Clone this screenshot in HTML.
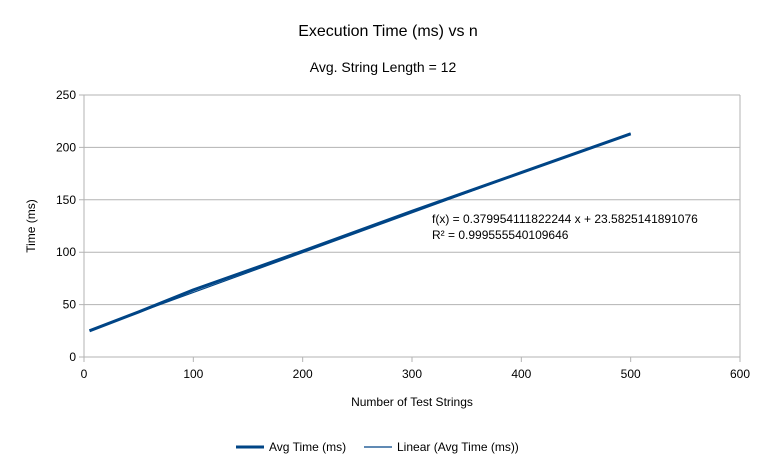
<!DOCTYPE html>
<html><head><meta charset="utf-8"><style>
body{margin:0;background:#fff;font-family:"Liberation Sans",sans-serif}
</style></head><body>
<svg width="766" height="458" viewBox="0 0 766 458" id="c" font-family="Liberation Sans, sans-serif">
<rect width="766" height="458" fill="#fff"/>
<text x="388" y="36" font-size="16" text-anchor="middle">Execution Time (ms) vs n</text>
<text x="383" y="72" font-size="14" text-anchor="middle">Avg. String Length = 12</text>
<g id="grid"></g>
<g id="series"></g>
<text x="432" y="223" font-size="12">f(x) = 0.379954111822244 x + 23.5825141891076</text>
<text x="432" y="239" font-size="12">R² = 0.999555540109646</text>
<text x="412" y="406" font-size="12" text-anchor="middle">Number of Test Strings</text>
<text x="35" y="226" font-size="12" text-anchor="middle" transform="rotate(-90 35 226)">Time (ms)</text>
<g>
<line x1="236" y1="447" x2="264" y2="447" stroke="#004586" stroke-width="3"/>
<text x="269" y="451" font-size="12">Avg Time (ms)</text>
<line x1="364" y1="447" x2="392" y2="447" stroke="#004586" stroke-width="1.2"/>
<text x="397" y="451" font-size="12">Linear (Avg Time (ms))</text>
</g>
</svg>
<script>
const xs=[5,50,100,200,300,400,500];
const ys=[25,43,64,101,139,176,213];
const slope=0.379954111822244, intercept=23.5825141891076;
const xTicks=[0,100,200,300,400,500,600];
const yTicks=[0,50,100,150,200,250];
const X0=84,X1=740,Y0=357,Y1=95;
const sx=v=>X0+(v/600)*(X1-X0), sy=v=>Y0-(v/250)*(Y0-Y1);
const NS="http://www.w3.org/2000/svg";
const g=document.getElementById('grid'), s=document.getElementById('series');
function mk(t,a,p){const e=document.createElementNS(NS,t);for(const k in a)e.setAttribute(k,a[k]);p.appendChild(e);return e;}
yTicks.forEach(v=>{
 const l=mk('line',{x1:X0-5,x2:X1,y1:sy(v),y2:sy(v),stroke:'#b3b3b3','stroke-width':1},g);
 
 
 const t=mk('text',{x:X0-8,y:sy(v)+4,'font-size':12,'text-anchor':'end'},g);t.textContent=v;
 
 
});
xTicks.forEach(v=>{
 const l=mk('line',{x1:sx(v),x2:sx(v),y1:Y0,y2:Y0+5,stroke:'#b3b3b3'},g);
 
 
 const t=mk('text',{x:sx(v),y:Y0+21,'font-size':12,'text-anchor':'middle'},g);t.textContent=v;
 
 
});
const ax=mk('line',{x1:X0,x2:X0,y1:Y1,y2:Y0,stroke:'#b3b3b3'},g);


const bx=mk('line',{x1:X1,x2:X1,y1:Y1,y2:Y0,stroke:'#b3b3b3'},g);


const p=mk('polyline',{points:xs.map((x,i)=>sx(x)+','+sy(ys[i])).join(' '),fill:'none',stroke:'#004586','stroke-width':3,'stroke-linejoin':'round'},s);


const xa=xs[0], xb=xs[xs.length-1];
const tl=mk('line',{x1:sx(xa),y1:sy(slope*xa+intercept),x2:sx(xb),y2:sy(slope*xb+intercept),stroke:'#004586','stroke-width':1.2},s);


</script>
</body></html>
